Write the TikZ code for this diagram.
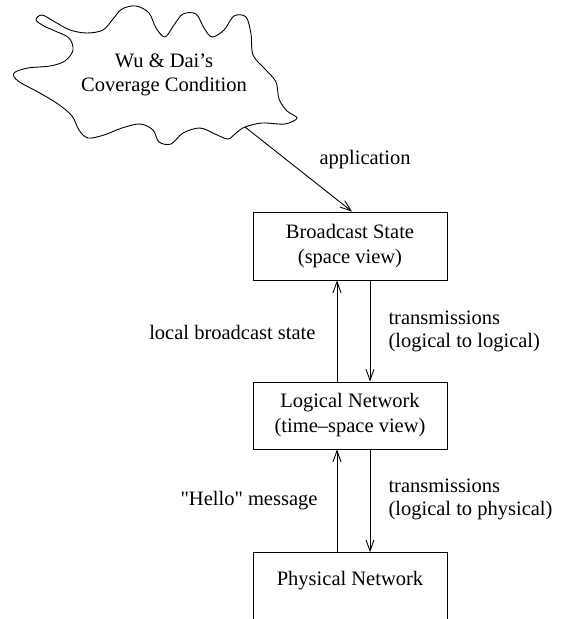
\documentclass[tikz,border=0pt]{standalone}
\usepackage{fontspec}
\setmainfont{Liberation Serif}
\newfontfamily\plainquotes{Liberation Serif}[Ligatures=TeXOff]
\usetikzlibrary{arrows.meta}

\tikzset{
  layer/.style={draw, line width=0.9bp, minimum width=194bp, align=center,
    font=\fontsize{20.5bp}{25bp}\selectfont},
  note/.style={align=left, font=\fontsize{20.5bp}{23bp}\selectfont},
  arr/.style={line width=0.9bp, -{Straight Barb[length=11bp,width=8bp]}}
}

\begin{document}
\begin{tikzpicture}[x=1bp, y=-1bp]
      \clip (0,0) rectangle (572,619);
      % cloud
      \draw[line width=0.9bp] plot[smooth cycle, tension=0.55] coordinates {
        (36,20) (42,15) (55,22) (70,30) (87,33) (103,30) (113,19) (122,9)
        (136,6) (149,13) (156,28) (165,37) (174,25) (183,14) (196,14)
        (204,28) (212,37) (224,30) (234,16) (246,17) (251,34) (253,55)
        (265,69) (276,82) (279,99) (287,111) (297,118) (285,124) (262,123)
        (245,127) (236,133) (228,139) (215,134) (200,128) (183,133)
        (171,144) (159,142) (153,130) (140,124) (122,128) (104,135)
        (88,138) (79,130) (72,116) (58,104) (38,92) (18,81) (14,73)
        (28,68) (50,66) (65,61) (73,50) (69,38) (55,31) (44,26)};
      \node[align=center, font=\fontsize{20.5bp}{24bp}\selectfont] (cond) at (164,75)
        {Wu \& Dai's\\Coverage Condition};
      \coordinate (tail) at (245,127);
      % layers
      \node[layer, minimum height=68bp] (bstate) at (350,246)
        {Broadcast State\\(space view)};
      \node[layer, minimum height=67bp] (lnet) at (350,415.5)
        {Logical Network\\(time--space view)};
      \node[layer, anchor=base, text height=29bp, text depth=60bp] (phys) at (350,585)
        {Physical Network};
      % connectors
      \draw[arr] (tail) -- ([xshift=2bp]bstate.north);
      \node[note, anchor=base west] (appl) at (316,165) {application};
      \draw[arr] ([xshift=-13bp]lnet.north) -- ([xshift=-13bp]bstate.south);
      \draw[arr] ([xshift=20bp]bstate.south) -- ([xshift=20bp]lnet.north);
      \node[note, anchor=east] (lbs) at (319,332) {local broadcast state};
      \node[note, anchor=west] (tll) at (385,331) {transmissions\\(logical to logical)};
      \draw[arr] ([xshift=-13bp]phys.north) -- ([xshift=-13bp]lnet.south);
      \draw[arr] ([xshift=20bp]lnet.south) -- ([xshift=20bp]phys.north);
      \node[note, anchor=east] (hello) at (321,501) {\plainquotes "Hello" message};
      \node[note, anchor=west] (tlp) at (385,499) {transmissions\\(logical to physical)};
    \end{tikzpicture}
\end{document}
